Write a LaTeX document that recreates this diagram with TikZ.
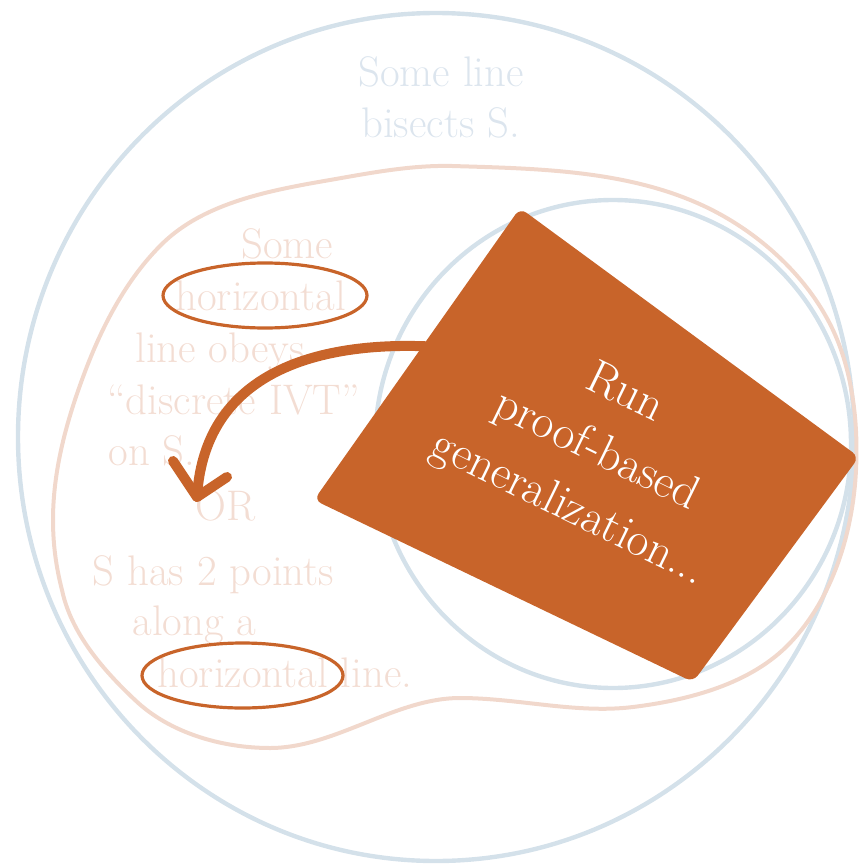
\documentclass[tikz,border=0pt]{standalone}
\usepackage{fontspec}
\usetikzlibrary{arrows.meta}
\definecolor{ringblue}{HTML}{D4E1EA}
\definecolor{blobpeach}{HTML}{F1D8CC}
\definecolor{paleblue}{HTML}{DCE5EE}
\definecolor{palepeach}{HTML}{F3DDD3}
\definecolor{rust}{HTML}{C8642A}
\begin{document}
\begin{tikzpicture}[x=0.5pt,y=-0.5pt,
  ring/.style={draw=ringblue,line width=2.2pt},
  blobline/.style={draw=blobpeach,line width=2pt},
  bluetext/.style={text=paleblue,inner sep=0pt,anchor=base west,font=\fontsize{21.4}{28}\selectfont},
  peachtext/.style={bluetext,text=palepeach},
  circled/.style={draw=rust,line width=1.6pt},
  bigarrow/.style={draw=rust,line width=5pt,line cap=round,line join=round},
  cardtext/.style={text=white,align=center,font=\fontsize{23.8}{32}\selectfont,rotate=-26}
]
\useasboundingbox (0,0) rectangle (860,866);

% outer and inner sets
\draw[ring] (436,437) ellipse [x radius=418, y radius=424];
\draw[ring] (613,444) ellipse [x radius=238, y radius=244];

% the wavy middle set
\draw[blobline] (452,166)
  .. controls (538,168.6) and (628.6,170) .. (706,207)
  .. controls (764.5,235) and (818,286) .. (840,347)
  .. controls (854,385.5) and (858,429) .. (856,470)
  .. controls (853,532) and (833,598) .. (790,643)
  .. controls (751,684) and (689,700) .. (633,707)
  .. controls (576,714) and (518,698) .. (460,698)
  .. controls (395,698) and (335,748) .. (270,748)
  .. controls (222,748) and (169.6,733) .. (135,700)
  .. controls (103,670) and (71,633) .. (62,590)
  .. controls (56,567) and (53,544) .. (53,520)
  .. controls (53,471) and (66,423) .. (83,377)
  .. controls (101,328) and (126,279) .. (163,243)
  .. controls (205.5,202) and (272,190) .. (330,180)
  .. controls (370,173) and (411,165) .. cycle;

% labels of the outer set
\node[bluetext] (b1) at (358,87) {Some line};
\node[bluetext] (b2) at (361,138) {bisects S.};

% labels of the middle set
\node[peachtext] (p1) at (241,258) {Some};
\node[peachtext] (p2) at (175,310) {horizontal};
\node[peachtext] (p3) at (135,362) {line obeys};
\node[peachtext] (p4) at (107,414) {“discrete IVT”};
\node[peachtext] (p5) at (108,465) {on S.};
\node[peachtext] (p6) at (195,520) {OR};
\node[peachtext] (p7) at (92,585) {S has 2 points};
\node[peachtext] (p8) at (132,635) {along a};
\node[peachtext] (p9) at (157,687) {horizontal line.};

% highlighted words
\draw[circled] (265,295.5) ellipse [x radius=102, y radius=32.5];
\draw[circled] (242.5,675.5) ellipse [x radius=100.5, y radius=32.5];

% curved arrow out of the card
\coordinate (armstart) at (440,347);
\coordinate (tip) at (197,497);
\draw[bigarrow] (armstart) .. controls (330,340) and (205,365) .. (tip);
\draw[bigarrow] ([shift={(-24,-36)}]tip) -- (tip) -- ([shift={(30,-20)}]tip);

% the card
\fill[rust, rounded corners=4pt] (520,208) -- (859,457) -- (693,682) -- (314,500) -- cycle;
\node[cardtext] (card) at (596,452) {Run\\proof-based\\generalization...};
\end{tikzpicture}
\end{document}
